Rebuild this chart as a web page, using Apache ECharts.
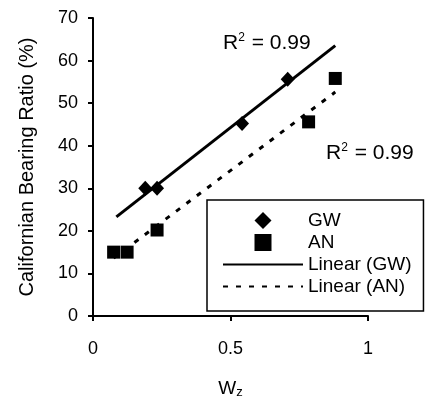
<!DOCTYPE html>
<html>
<head>
<meta charset="utf-8">
<script src="https://cdn.jsdelivr.net/npm/echarts@6/dist/echarts.min.js"></script>
<style>
    html, body { margin: 0; padding: 0; background: #fff; }
    #chart { width: 425px; height: 398px; }
</style>
</head>
<body>
<div id="chart"></div>
<script>
// values
const gwX = [0.19, 0.233, 0.542, 0.708];
const gwY = [30.0, 30.0, 45.2, 55.6];
const anX = [0.075, 0.124, 0.233, 0.784, 0.881];
const anY = [15.0, 15.0, 20.2, 45.6, 55.8];
// trend line ends (Linear fits)
const gwFitX = [0.085, 0.881];
const gwFitY = [23.3, 63.5];
const anFitX = [0.075, 0.881];
const anFitY = [13.6, 52.6];
const r2Labels = ['0.99', '0.99'];

const font = "'Liberation Sans', Arial, sans-serif";
const diamondIcon = 'path://M0,-1L1,0L0,1L-1,0Z';
const squareIcon = 'path://M0,0L1,0L1,1L0,1Z';
const noMarker = { color: 'rgba(0,0,0,0)', borderColor: 'rgba(0,0,0,0)', opacity: 0 };

function pairs(xs, ys) {
    return xs.map((x, i) => [x, ys[i]]);
}

function r2Text(value) {
    return '{n|R}{s|2}{n| = ' + value + '}';
}

const r2Rich = {
    n: { fontSize: 21, fontFamily: font, fill: '#000' },
    s: { fontSize: 12, fontFamily: font, fill: '#000', verticalAlign: 'top', padding: [0, 1, 10, 0] },
};

const chart = echarts.init(document.getElementById('chart'));
chart.setOption({
    backgroundColor: '#fff',
    animation: false,
    grid: { left: 93, right: 57, top: 18, bottom: 82, outerBoundsMode: 'none', containLabel: false },
    xAxis: {
        type: 'value', min: 0, max: 1, interval: 0.5,
        name: '{w|W}{z|z}',
        nameLocation: 'middle', nameGap: 62,
        nameTextStyle: {
            rich: {
                w: { fontSize: 19, fontFamily: font, color: '#000' },
                z: { fontSize: 13, fontFamily: font, color: '#000', padding: [8, 0, 0, 0] },
            },
        },
        axisLine: { lineStyle: { color: '#000', width: 2 } },
        axisTick: { inside: false, length: 5, lineStyle: { color: '#000', width: 2 } },
        axisLabel: { fontSize: 18, fontFamily: font, color: '#000', margin: 24 },
        splitLine: { show: false },
    },
    yAxis: {
        type: 'value', min: 0, max: 70, interval: 10,
        name: 'Californian Bearing Ratio (%)',
        nameLocation: 'middle', nameRotate: 90, nameGap: 56,
        nameTextStyle: { fontSize: 20, fontFamily: font, color: '#000' },
        axisLine: { show: true, lineStyle: { color: '#000', width: 2 } },
        axisTick: { show: true, inside: false, length: 5, lineStyle: { color: '#000', width: 2 } },
        axisLabel: { fontSize: 18, fontFamily: font, color: '#000', margin: 15 },
        splitLine: { show: false },
    },
    legend: {
        orient: 'vertical',
        left: 207, top: 200,
        padding: [11, 12, 15, 15],
        borderColor: '#000', borderWidth: 1.5,
        itemWidth: 80, itemHeight: 17, itemGap: 3,
        symbolKeepAspect: true,
        textStyle: { fontSize: 19, fontFamily: font, color: '#000' },
        data: [
            { name: 'GW', icon: diamondIcon },
            { name: 'AN', icon: squareIcon },
            { name: 'Linear (GW)', itemStyle: noMarker },
            { name: 'Linear (AN)', itemStyle: noMarker },
        ],
    },
    graphic: [
        { type: 'text', left: 223, top: 32, style: { text: r2Text(r2Labels[0]), rich: r2Rich } },
        { type: 'text', left: 326, top: 142, style: { text: r2Text(r2Labels[1]), rich: r2Rich } },
    ],
    series: [
        {
            name: 'Linear (GW)', type: 'line', data: pairs(gwFitX, gwFitY),
            symbol: 'none', itemStyle: { color: '#000' },
            lineStyle: { color: '#000', width: 3 }, z: 1,
        },
        {
            name: 'Linear (AN)', type: 'line', data: pairs(anFitX, anFitY),
            symbol: 'none', itemStyle: { color: '#000' },
            lineStyle: { color: '#000', width: 3, type: [5, 8] }, z: 1,
        },
        {
            name: 'GW', type: 'scatter', data: pairs(gwX, gwY),
            symbol: 'diamond', symbolSize: [14, 15],
            itemStyle: { color: '#000', opacity: 1 }, z: 3,
        },
        {
            name: 'AN', type: 'scatter', data: pairs(anX, anY),
            symbol: 'rect', symbolSize: 13,
            itemStyle: { color: '#000', opacity: 1 }, z: 3,
        },
    ],
});
</script>
</body>
</html>
